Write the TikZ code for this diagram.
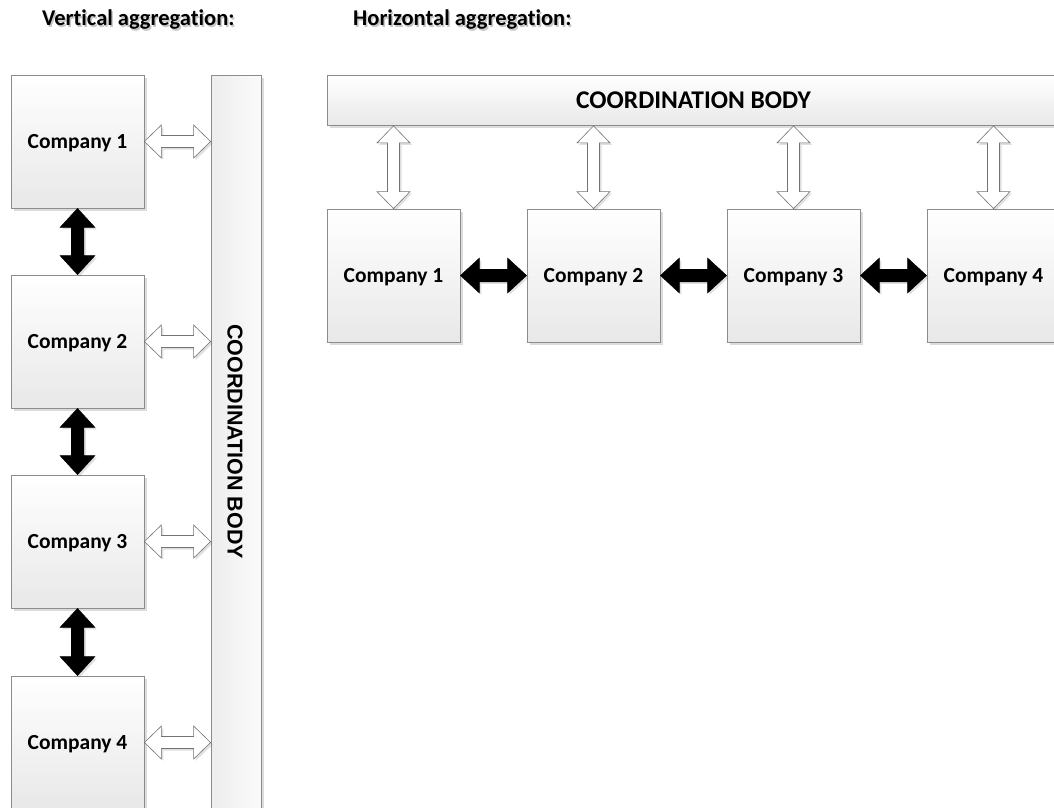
\documentclass[tikz,border=0pt]{standalone}
\usepackage{fontspec}
\setmainfont{Carlito}[RawFeature=-liga]
\newfontfamily\arialfont{Liberation Sans}
\usetikzlibrary{calc,shadows}

\tikzset{
  softshadow/.style={drop shadow={shadow xshift=2.5pt,shadow yshift=-2.5pt,opacity=.28,fill=black!50}},
  company/.style={draw=black!45, line width=.8pt, top color=white, bottom color=black!9,
    minimum width=133pt, minimum height=133pt, inner sep=0pt, text depth=0pt,
    font=\fontsize{21.5}{24}\selectfont\bfseries, softshadow},
  hbody/.style={draw=black!45, line width=.8pt, top color=white, bottom color=black!9,
    minimum width=733pt, minimum height=50pt, inner sep=0pt,
    font=\fontsize{25.5}{28}\selectfont\bfseries, softshadow},
  vbody/.style={draw=black!45, line width=.8pt, left color=black!7, right color=black!2,
    minimum width=50pt, minimum height=733pt, inner sep=0pt, softshadow},
  heading/.style={anchor=base west, inner sep=0pt, font=\fontsize{22.5}{24}\selectfont\bfseries},
  % double-headed block arrow: head half-width, shaft half-width, head length
  fat/.style n args={3}{to path={
      -- ($(\tikztostart)!#3!(\tikztotarget)!#1!90:(\tikztotarget)$)
      -- ($(\tikztostart)!#3!(\tikztotarget)!#2!90:(\tikztotarget)$)
      -- ($(\tikztotarget)!#3!(\tikztostart)!#2!-90:(\tikztostart)$)
      -- ($(\tikztotarget)!#3!(\tikztostart)!#1!-90:(\tikztostart)$)
      -- (\tikztotarget)
      -- ($(\tikztotarget)!#3!(\tikztostart)!#1!90:(\tikztostart)$)
      -- ($(\tikztotarget)!#3!(\tikztostart)!#2!90:(\tikztostart)$)
      -- ($(\tikztostart)!#3!(\tikztotarget)!#2!-90:(\tikztotarget)$)
      -- ($(\tikztostart)!#3!(\tikztotarget)!#1!-90:(\tikztotarget)$)
      -- cycle}},
  openarrow/.style={draw=black!55, fill=white, line width=.6pt, line join=miter,
    fat={16.5pt}{6pt}{17pt}, drop shadow={shadow xshift=2pt,shadow yshift=-2pt,opacity=.25,fill=black!50}},
  blackarrow/.style={fill=black, fat={17.5pt}{6.3pt}{19pt},
    drop shadow={shadow xshift=2pt,shadow yshift=-2pt,opacity=.25,fill=black!50}},
}

\begin{document}
\begin{tikzpicture}[x=1pt,y=-1pt]
\useasboundingbox (0,0) rectangle (1054,807);
\clip (0,0) rectangle (1054,807);

% headings with a faint shadow
\node[heading, text=black!22] (t1s) at (43.5,27) {Vertical aggregation:};
\node[heading] (t1) at (42,25) {Vertical aggregation:};
\node[heading, text=black!22] (t2s) at (354.5,27) {Horizontal aggregation:};
\node[heading] (t2) at (353,25) {Horizontal aggregation:};

% vertical aggregation
\node[vbody] (vb) at (236,441.5) {};
\node[rotate=-90, inner sep=0pt, font=\arialfont\bfseries\fontsize{21.5}{24}\selectfont] (vbt) at (235,441.5) {COORDINATION BODY};
\node[company] (v1) at (77.5,141.5) {Company 1};
\node[company] (v2) at (77.5,341.5) {Company 2};
\node[company] (v3) at (77.5,541.5) {Company 3};
\node[company] (v4) at (77.5,742.5) {Company 4};

\foreach \i in {1,...,4}{
  \coordinate (vc\i) at (v\i.east -| vb.west);
  \draw[openarrow] (v\i.east) to (vc\i);
}
\draw[blackarrow] (v1.south) to (v2.north);
\draw[blackarrow] (v2.south) to (v3.north);
\draw[blackarrow] (v3.south) to (v4.north);

% horizontal aggregation
\node[hbody] (hb) at (693.5,100.5) {COORDINATION BODY};
\node[company] (h1) at (393.5,275.5) {Company 1};
\node[company] (h2) at (593.5,275.5) {Company 2};
\node[company] (h3) at (793.5,275.5) {Company 3};
\node[company] (h4) at (993.5,275.5) {Company 4};

\foreach \i in {1,...,4}{
  \coordinate (hc\i) at (h\i.north |- hb.south);
  \draw[openarrow] (hc\i) to (h\i.north);
}
\draw[blackarrow] (h1.east) to (h2.west);
\draw[blackarrow] (h2.east) to (h3.west);
\draw[blackarrow] (h3.east) to (h4.west);
\end{tikzpicture}
\end{document}
